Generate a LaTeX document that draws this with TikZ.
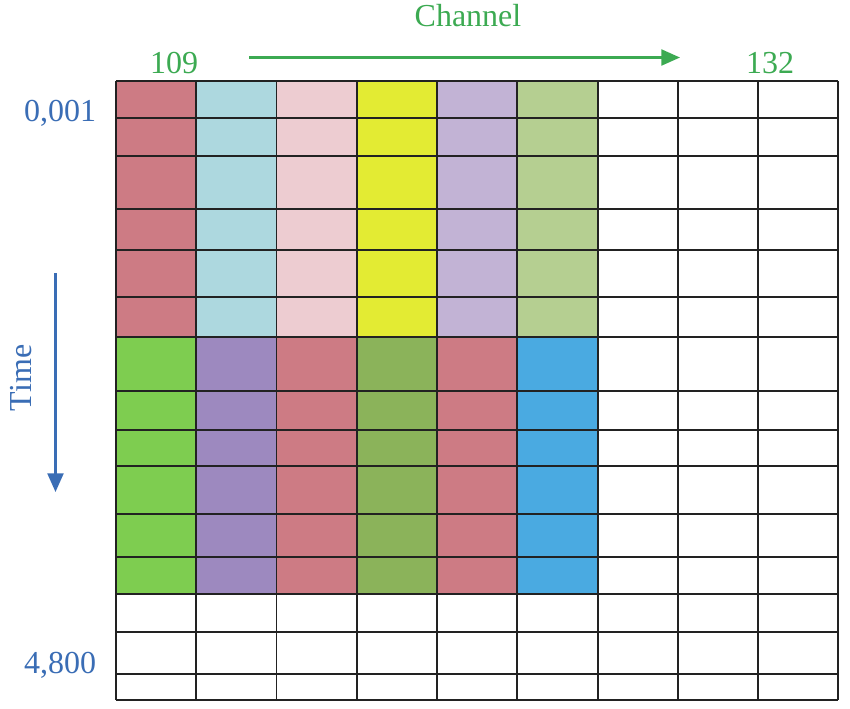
\documentclass[tikz,border=0pt]{standalone}
\usepackage{fontspec}
\setmainfont{Liberation Serif}
\usetikzlibrary{arrows.meta}
\definecolor{crose}{HTML}{CD7B84}
\definecolor{ccyan}{HTML}{ADD8DF}
\definecolor{cpink}{HTML}{EDCCD1}
\definecolor{cyel}{HTML}{E3EB33}
\definecolor{clav}{HTML}{C2B3D5}
\definecolor{clgr}{HTML}{B5CF91}
\definecolor{cgrn}{HTML}{7ECD50}
\definecolor{cpur}{HTML}{9D89BF}
\definecolor{coli}{HTML}{8BB35A}
\definecolor{cblu}{HTML}{4AAAE1}
\definecolor{tgreen}{HTML}{3CAA52}
\definecolor{tblue}{HTML}{3A6DB5}
\definecolor{gridc}{HTML}{222222}
\tikzset{
  lbl/.style={inner sep=0pt, anchor=base, font=\fontsize{24}{28}\selectfont},
  gridline/.style={draw=gridc, line width=1.4pt},
  axisarrow/.style={line width=1.7pt, -{Triangle[length=14pt,width=12pt]}},
}
\begin{document}
\begin{tikzpicture}[x=0.75pt,y=-0.75pt]
\useasboundingbox (0,0) rectangle (850,708);
\def\ya{81}\def\yb{337.3}\def\yc{594.3}
% top block fills
\foreach \xl/\xr/\c in {116/196/crose,196/276.5/ccyan,276.5/357/cpink,357/437/cyel,437/517/clav,517/598/clgr}
  {\fill[\c] (\xl,\ya) rectangle (\xr,\yb);}
% bottom block fills
\foreach \xl/\xr/\c in {116/196/cgrn,196/276.5/cpur,276.5/357/crose,357/437/coli,437/517/crose,517/598/cblu}
  {\fill[\c] (\xl,\yb) rectangle (\xr,\yc);}
% grid
\foreach \y in {81,117.7,156,208.7,250,296.7,337.3,391,430,466,514.3,556.7,594.3,631.7,674.3,700}
  {\draw[gridline] (116,\y) -- (838,\y);}
\foreach \x in {116,196,276.5,357,437,517,598,678,758,838}
  {\draw[gridline] (\x,81) -- (\x,700);}
% labels
\node[lbl, text=tgreen] (channel) at (468,26) {Channel};
\node[lbl, text=tgreen] (c109) at (174,73) {109};
\node[lbl, text=tgreen] (c132) at (770,73) {132};
\node[lbl, text=tblue] (t1) at (60,121) {0,001};
\node[lbl, text=tblue] (t2) at (60,673) {4,800};
\node[inner sep=0pt, text=tblue, rotate=90, font=\fontsize{24}{28}\selectfont] (time) at (21,378) {Time};
% arrows
\coordinate (ga) at (249,57.5);
\coordinate (gb) at (680,57.5);
\draw[axisarrow, tgreen] (ga) -- (gb);
\coordinate (ba) at (55.5,273);
\coordinate (bb) at (55.5,492);
\draw[axisarrow, tblue] (ba) -- (bb);
\end{tikzpicture}
\end{document}
